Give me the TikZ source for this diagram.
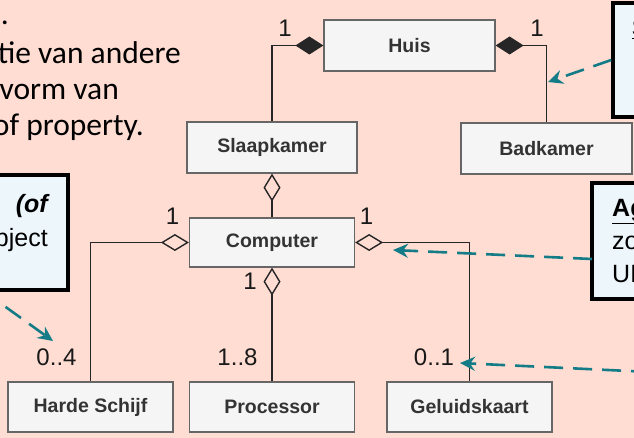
\documentclass[tikz,border=0pt]{standalone}
\usepackage{fontspec}
\setmainfont{Liberation Sans}
\newfontfamily\slidefont{Carlito}
\usetikzlibrary{arrows.meta}
\definecolor{slidebg}{RGB}{255,221,211}
\definecolor{notefill}{RGB}{237,246,250}
\definecolor{boxfill}{RGB}{245,245,245}
\definecolor{boxline}{RGB}{102,102,102}
\definecolor{hint}{RGB}{20,124,134}

\begin{document}
\begin{tikzpicture}[x=1pt,y=-1pt,
    umlbox/.style={draw=boxline, fill=boxfill, line width=1.2pt, minimum width=165pt,
      minimum height=50pt, inner sep=0pt, text=black!80,
      font=\fontsize{19.5}{23}\selectfont\bfseries},
    mult/.style={inner sep=0pt, text=black!90, font=\fontsize{24}{28}\selectfont},
    compo/.style={line width=1.4pt, draw=black!85, {Diamond[length=28pt,width=18pt]}-},
    aggr/.style={line width=1.4pt, draw=black!85, {Diamond[open,length=28pt,width=17pt]}-},
    note/.style={draw=black, fill=notefill, line width=3.5pt, inner sep=0pt},
    notetext/.style={inner sep=0pt, font=\fontsize{25}{33}\selectfont},
    slidetext/.style={inner sep=0pt, anchor=base east, font=\slidefont\fontsize{31.5}{37}\selectfont},
    hintarrow/.style={draw=hint, line width=2.6pt, dash pattern=on 19pt off 10pt,
      -{Stealth[length=15pt,width=14pt,inset=5pt]}}]
\useasboundingbox (0,0) rectangle (634,438);
\fill[slidebg] (0,0) rectangle (634,438);
\clip (0,0) rectangle (634,438);

\node[slidetext] (tl1) at (9,25) {e.};
\node[slidetext] (tl2) at (181,64) {tie van andere};
\node[slidetext] (tl3) at (119,100) {vorm van};
\node[slidetext] (tl4) at (144,136) {of property.};

\node[umlbox, minimum width=171pt, minimum height=51pt] (huis) at (409.5,45.5) {Huis};
\node[umlbox, minimum width=170pt, minimum height=51pt] (slaap) at (272,147.5) {Slaapkamer};
\node[umlbox, minimum width=171pt, minimum height=51pt] (bad) at (546.5,148.5) {Badkamer};
\node[umlbox, minimum height=49pt] (computer) at (272,242.5) {Computer};
\node[umlbox] (harde) at (90.5,407) {Harde Schijf};
\node[umlbox] (proc) at (272,407) {Processor};
\node[umlbox] (geluid) at (469.5,407) {Geluidskaart};

\draw[compo] (huis.west) -| (slaap.north);
\draw[compo] (huis.east) -| (bad.north);
\draw[aggr] (slaap.south) -- (computer.north);
\draw[aggr] (computer.west) -| (harde.north);
\draw[aggr] (computer.south) -- (proc.north);
\draw[aggr] (computer.east) -| (geluid.north);

\node[mult] (m1) at (285,28.5) {1};
\node[mult] (m2) at (537,28.5) {1};
\node[mult] (m3) at (172.5,216.5) {1};
\node[mult] (m4) at (366.5,216.5) {1};
\node[mult] (m5) at (250,281.5) {1};
\node[mult] (m6) at (56.5,357) {0..4};
\node[mult] (m7) at (237.5,357) {1..8};
\node[mult] (m8) at (434,357) {0..1};

\node[note, minimum width=120pt, minimum height=115pt] (lnote) at (8,232.5) {};
\node[note, minimum width=134pt, minimum height=114pt] (tnote) at (680,60) {};
\node[note, minimum width=136pt, minimum height=116pt] (anote) at (660,241) {};

\node[notetext, anchor=base east] (lt1) at (50,213) {\textbf{\textit{(of}}};
\node[notetext, anchor=base east] (lt2) at (48,247) {bject};
\node[notetext, anchor=base west] (tt1) at (632,37) {\textbf{\underline{S}}};
\node[notetext, anchor=base west] (tt2) at (632,68) {I};
\node[notetext, anchor=base west] (at1) at (612,217) {\textbf{\underline{Ag}}};
\node[notetext, anchor=base west] (at2) at (612,250) {zo};
\node[notetext, anchor=base west] (at3) at (612,282) {UM};

\coordinate (tto) at (548,82);
\coordinate (afrom) at (592,259);
\coordinate (ato) at (393,250);
\coordinate (lfrom) at (-18,290);
\coordinate (lto) at (53,341);
\coordinate (gfrom) at (650,372);
\coordinate (gto) at (460,363);
\draw[hintarrow] (tnote.west) -- (tto);
\draw[hintarrow] (afrom) -- (ato);
\draw[hintarrow] (lfrom) -- (lto);
\draw[hintarrow] (gfrom) -- (gto);
\end{tikzpicture}
\end{document}
